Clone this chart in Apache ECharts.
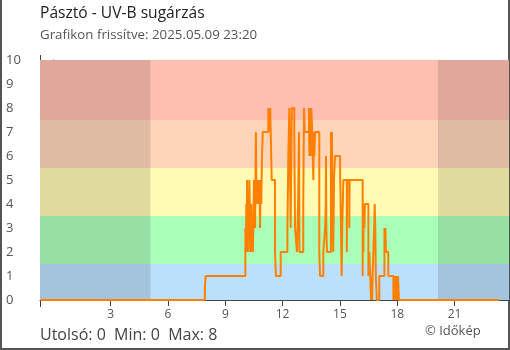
<!DOCTYPE html>
<html>
<head>
<meta charset="utf-8">
<script src="https://cdn.jsdelivr.net/npm/echarts@6/dist/echarts.min.js"></script>
<style>
  html, body { margin: 0; padding: 0; background: #fff; }
  #chart { width: 510px; height: 350px; }
</style>
</head>
<body>
<div id="chart"></div>
<script>
// UV-B readings for Pásztó, hours relative to midnight of 2025-05-09
// (negative hours belong to the previous evening). Each value holds until the next time.
const hours = [
  -0.67, 7.93, 7.97, 10.05, 10.08, 10.10, 10.12, 10.14, 10.16, 10.18,
  10.21, 10.23, 10.26, 10.28, 10.30, 10.33, 10.36, 10.38, 10.41, 10.44,
  10.47, 10.50, 10.53, 10.56, 10.60, 10.62, 10.65, 10.67, 10.70, 10.72,
  10.74, 10.77, 10.80, 10.82, 10.85, 10.88, 10.92, 10.96, 11.25, 11.32,
  11.35, 11.43, 11.60, 11.65, 11.90, 12.25, 12.30, 12.35, 12.42, 12.48,
  12.61, 12.65, 12.75, 12.81, 12.86, 12.88, 13.08, 13.12, 13.16, 13.38,
  13.40, 13.42, 13.44, 13.46, 13.48, 13.50, 13.55, 13.58, 13.61, 13.63,
  13.66, 13.70, 13.92, 13.96, 14.13, 14.22, 14.26, 14.27, 14.29, 14.32,
  14.53, 14.56, 14.58, 14.62, 14.65, 14.69, 14.74, 15.01, 15.09, 15.12,
  15.18, 15.36, 15.38, 15.49, 15.51, 16.19, 16.21, 16.23, 16.25, 16.28,
  16.31, 16.49, 16.54, 16.63, 16.66, 16.69, 16.71, 16.79, 16.82, 16.85,
  16.88, 16.93, 17.06, 17.33, 17.36, 17.38, 17.41, 17.53, 17.80, 17.83,
  17.88, 17.94, 17.99, 18.04, 18.09, 23.33
];
const uvValues = [
  0, 0.5, 1, 3, 2, 4, 3, 5, 3, 2,
  4, 3, 5, 4, 2, 3, 4, 2, 3, 2,
  3, 5, 4, 3, 7, 5, 4, 5, 4, 5,
  4, 5, 4, 3, 5, 4, 6, 7, 8, 7,
  8, 5, 2, 1, 2, 3, 6, 8, 3, 8,
  7, 3, 2, 4, 7, 2, 4, 8, 7, 8,
  6, 8, 7, 8, 6, 8, 7, 6, 5, 7,
  6, 7, 2, 1, 2, 3, 4, 6, 3, 2,
  7, 4, 7, 3, 2, 5, 6, 5.5, 1, 3,
  5, 2, 5, 3, 5, 1, 4, 2, 4, 3,
  4, 1, 2, 0, 1, 0, 1, 3, 4, 3,
  1, 0, 1, 3, 2, 3, 2, 1, 0, 1,
  0, 1, 0, 1, 0, 0
];

// x-axis tick hours and axis window
const hourTicks = [3, 6, 9, 12, 15, 18, 21];
const axisStart = -0.7;
const axisEnd = 23.85;

// sunrise / sunset (night is shaded)
const sunrise = 5.08;
const sunset = 20.13;

// UV intensity bands: [from, to, colour]
const bandLimits = [0, 1.5, 3.5, 5.5, 7.5, 10];
const bandColors = ['#bbe0fc', '#aaffb9', '#fffbb5', '#ffd5ba', '#ffbfb0'];

const FONT = '"Open Sans", "Noto Sans", sans-serif';

const series = hours.map((h, i) => [h, uvValues[i]]);
const lastVal = uvValues[uvValues.length - 1];
const minVal = Math.min(...uvValues);
const maxVal = Math.max(...uvValues);

const areas = [];
for (let i = 0; i < bandColors.length; i++) {
  areas.push([
    { yAxis: bandLimits[i], itemStyle: { color: bandColors[i] } },
    { yAxis: bandLimits[i + 1] }
  ]);
}
const nightStyle = { color: 'rgba(0,0,0,0.12)' };
areas.push([{ xAxis: axisStart, itemStyle: nightStyle }, { xAxis: sunrise }]);
areas.push([{ xAxis: sunset, itemStyle: nightStyle }, { xAxis: axisEnd }]);

const chart = echarts.init(document.getElementById('chart'), null, { renderer: 'canvas' });
chart.setOption({
  animation: false,
  backgroundColor: '#fff',
  title: [
    {
      text: 'Pásztó - UV-B sugárzás',
      subtext: 'Grafikon frissítve: 2025.05.09 23:20',
      left: 40, top: 6, padding: 0, itemGap: 7,
      textStyle: { fontFamily: FONT, fontSize: 15.6, fontWeight: 'normal', color: '#222' },
      subtextStyle: { fontFamily: FONT, fontSize: 13.3, color: '#555' }
    },
    {
      text: 'Utolsó: ' + lastVal + '  Min: ' + minVal + '  Max: ' + maxVal,
      left: 40, top: 327, padding: 0,
      textStyle: { fontFamily: FONT, fontSize: 16, fontWeight: 'normal', color: '#444' }
    },
    {
      text: '© Időkép',
      left: 425, top: 325, padding: 0,
      textStyle: { fontFamily: FONT, fontSize: 13, fontWeight: 'normal', color: '#555' }
    }
  ],
  grid: { left: 40, right: 1, top: 60, bottom: 50 },
  xAxis: {
    type: 'value',
    min: axisStart,
    max: axisEnd,
    axisLine: { lineStyle: { color: '#444', width: 1 } },
    axisTick: { customValues: hourTicks, length: 6, lineStyle: { color: '#444' } },
    axisLabel: { customValues: hourTicks, color: '#555', fontFamily: FONT, fontSize: 12, margin: 9 },
    splitLine: { show: false }
  },
  yAxis: {
    type: 'value',
    min: 0, max: 10, interval: 1,
    axisLine: { show: true, lineStyle: { color: '#444', width: 1 } },
    axisTick: { show: true, length: 6, lineStyle: { color: '#444' } },
    axisLabel: { align: 'left', margin: 34, color: '#555', fontFamily: FONT, fontSize: 13 },
    splitLine: { show: false }
  },
  series: [
    {
      type: 'line',
      step: 'end',
      data: series,
      showSymbol: false,
      z: 5,
      lineStyle: { color: '#ff8000', width: 2 },
      markArea: { silent: true, label: { show: false }, data: areas }
    }
  ],
  graphic: [
    {
      // frame around the figure
      type: 'polyline',
      silent: true,
      shape: { points: [[1, 0], [1, 349], [509, 349], [509, 0]] },
      style: { stroke: '#555', lineWidth: 2, fill: null }
    },
    {
      // vertical axis rule runs slightly past both ends of the plot
      type: 'line',
      silent: true,
      z: 0,
      shape: { x1: 40.5, y1: 55, x2: 40.5, y2: 307 },
      style: { stroke: '#444', lineWidth: 1 }
    }
  ]
});
</script>
</body>
</html>
